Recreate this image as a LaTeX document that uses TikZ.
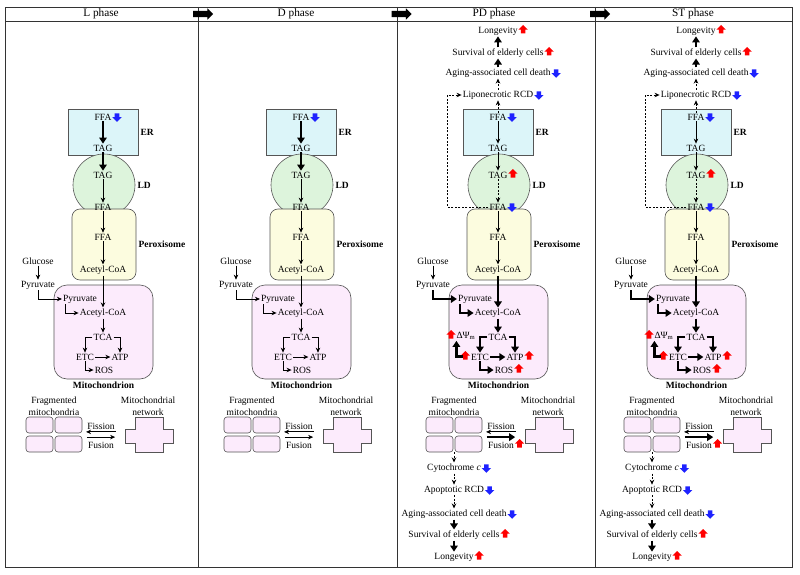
\documentclass[tikz,border=0pt]{standalone}
\usepackage{fontspec}
\setmainfont{Liberation Serif}
\usepackage{tikz}
\usetikzlibrary{positioning}
\usetikzlibrary{arrows.meta}
\usetikzlibrary{shapes.arrows}
\definecolor{ERCyan}{HTML}{DCF5F9}
\definecolor{LDGreen}{HTML}{DDF4DC}
\definecolor{PeroxYellow}{HTML}{FCFCDF}
\definecolor{MitoPink}{HTML}{FCEBFC}
\definecolor{UpRed}{HTML}{FF0000}
\definecolor{DownBlue}{HTML}{1E22FF}
\definecolor{EdgeGray}{HTML}{555555}
\tikzset{
	every node/.style={font=\fontsize{9.5}{11.5}\selectfont, inner sep=1pt},
	flux/.style={->, >={Stealth[length=5pt, width=4.5pt]}, line width=0.8pt}, % normal flux
	bigflux/.style={->, >={Triangle[length=6pt, width=7.5pt]}, line width=2.3pt}, % enhanced flux
	dashflux/.style={flux, dash pattern=on 2pt off 1.5pt}, % weakened flux
	organelle/.style={draw=EdgeGray, line width=0.6pt},
	orglabel/.style={font=\fontsize{9.5}{11.5}\selectfont\bfseries},
	phaselabel/.style={font=\fontsize{11.3}{13}\selectfont},
	upmark/.style={single arrow, draw=none, fill=UpRed, shape border rotate=90,
			minimum height=8.5pt, inner sep=2.1pt, single arrow head extend=2.4pt},
	downmark/.style={upmark, fill=DownBlue, shape border rotate=270},
	phasearrow/.style={single arrow, draw=none, fill=black, minimum height=20pt,
			inner sep=3pt, single arrow head extend=2.5pt},
	% fluxes of the L and D phases
	erflux/.style={bigflux}, ldflux/.style={flux}, mitoflux/.style={flux}, fusflux/.style={flux}
}
% up/down marks beside a label
\newcommand{\chgright}[3]{\node[#1] (#2) at ([xshift=4.4pt, yshift=0.6pt]#3.east) {};}
\newcommand{\chgleft}[3]{\node[#1] (#2) at ([xshift=-4.4pt, yshift=0.6pt]#3.west) {};}

% one phase column: #1 shift of the lower block, #2 x of ROS
\newcommand{\phasecol}[2]{
	% Organelles
	\node[organelle, fill=ERCyan, minimum width=70pt, minimum height=46pt] (er) at (103,132) {};
	\node[organelle, fill=LDGreen, circle, minimum size=62pt] (ld) at (104,185) {};
	\node[organelle, fill=PeroxYellow, rounded corners=8pt, minimum width=64pt, minimum height=71pt] (perox) at (104,244.5) {};
	\node[organelle, fill=MitoPink, rounded corners=13pt, minimum width=99pt, minimum height=94pt] (mito) at (103.5,332) {};
	\node[orglabel, right=1pt of er] (erlbl) {ER};
	\node[orglabel, right=1pt of ld] (ldlbl) {LD};
	\node[orglabel, right=1pt of perox] (peroxlbl) {Peroxisome};
	\node[orglabel, below=1pt of mito] (mitolbl) {Mitochondrion};

	% Metabolites
	\node (ffa1) at (103,117) {FFA};
	\node (tag1) at (103,148) {TAG};
	\node (tag2) at (103,175) {TAG};
	\node (ffa2) at (103,207) {FFA};
	\node (ffa3) at (103,237) {FFA};
	\node (acoa1) at (103,270) {Acetyl-CoA};
	\node (glu) at (38,261) {Glucose};
	\node (pyr1) at (38,285) {Pyruvate};
	\node (pyr2) at (80,299) {Pyruvate};
	\node (acoa2) at (103,313) {Acetyl-CoA};
	\node (tca) at (103,337) {TCA};
	\node (etc) at (85,357) {ETC};
	\node (atp) at (120,357) {ATP};
	\node (ros) at (#2,370) {ROS};
	\chgright{downmark}{ffa1dn}{ffa1}

	% Fluxes
	\draw[erflux] (ffa1) -- (tag1);
	\draw[erflux] (tag1) -- (tag2);
	\draw[ldflux] (tag2) -- (ffa2);
	\draw[flux] (ffa2) -- (ffa3);
	\draw[flux] (ffa3) -- (acoa1);
	\draw[mitoflux] (acoa1) -- (acoa2);
	\draw[flux] (glu) -- (pyr1);
	\draw[mitoflux] (pyr1.south) |- (pyr2.west);
	\draw[mitoflux] ([xshift=-15pt]pyr2.south) |- (acoa2.west);
	\draw[mitoflux] (acoa2) -- (tca);
	\draw[mitoflux] (tca.west) -| (etc.north);
	\draw[mitoflux] (tca.east) -| (atp.north);
	\draw[mitoflux] (etc) -- (atp);
	\draw[mitoflux] (etc.south) |- (ros.west);

	% Fission and fusion
	\begin{scope}[xshift=#1]
		\node[align=center] (fraglbl) at (54,406) {Fragmented\\mitochondria};
		\node[align=center] (netlbl) at (148,406) {Mitochondrial\\network};
		\node[organelle, fill=MitoPink, rounded corners=3pt, minimum width=27pt, minimum height=16pt] (fr1) at (39.5,425) {};
		\node[organelle, fill=MitoPink, rounded corners=3pt, minimum width=27pt, minimum height=16pt] (fr2) at (68.5,425) {};
		\node[organelle, fill=MitoPink, rounded corners=3pt, minimum width=27pt, minimum height=16pt] (fr3) at (39.5,444) {};
		\node[organelle, fill=MitoPink, rounded corners=3pt, minimum width=27pt, minimum height=16pt] (fr4) at (68.5,444) {};
		\draw[organelle, fill=MitoPink] (135,417) -- (163,417) -- (163,429) -- (173,429) -- (173,443) -- (163,443)
			-- (163,452) -- (135,452) -- (135,443) -- (125,443) -- (125,429) -- (135,429) -- cycle;
		\node (fis) at (101,426) {Fission};
		\node (fus) at (101,445) {Fusion};
		\draw[flux] ([yshift=-1.5pt]fis.south east) -- ([yshift=-1.5pt]fis.south west);
		\draw[fusflux] ([yshift=3.5pt]fus.north west) -- ([yshift=3.5pt]fus.north east);
	\end{scope}
}

% extra changes of the PD and ST phases
\newcommand{\agingcol}{
	% Lipid branch
	\node (lipo) at (103,95) {Liponecrotic RCD};
	\node (agt) at (103,73) {Aging-associated cell death};
	\node (svt) at (103,53) {Survival of elderly cells};
	\node (lont) at (103,31) {Longevity};
	\chgright{downmark}{lipodn}{lipo}
	\chgright{downmark}{agtdn}{agt}
	\chgright{upmark}{svtup}{svt}
	\chgright{upmark}{lontup}{lont}
	\chgright{upmark}{tag2up}{tag2}
	\chgright{downmark}{ffa2dn}{ffa2}
	\draw[dashflux] (ffa1) -- (lipo);
	\draw[dashflux] (lipo) -- (agt);
	\draw[bigflux] (agt) -- (svt);
	\draw[bigflux] (svt) -- (lont);
	\draw[dashflux] (ffa2.west) -| ([xshift=-14pt]lipo.west) -- (lipo.west);

	% Mitochondrial changes
	\node (dpsi) at (71,336) {ΔΨ\textsubscript{m}};
	\chgleft{upmark}{dpsiup}{dpsi}
	\chgleft{upmark}{etcup}{etc}
	\chgright{upmark}{atpup}{atp}
	\chgright{upmark}{rosup}{ros}
	\chgright{upmark}{fusup}{fus}
	\draw[bigflux] (etcup) -| ([xshift=1pt]dpsi.south west);

	% Apoptotic branch
	\begin{scope}[xshift=5pt]
		\node (cyt) at (54,468) {Cytochrome \textit{c}};
		\node (apo) at (54,490) {Apoptotic RCD};
		\node (agb) at (54,514) {Aging-associated cell death};
		\node (svb) at (54,535) {Survival of elderly cells};
		\node (lonb) at (54,557) {Longevity};
		\chgright{downmark}{cytdn}{cyt}
		\chgright{downmark}{apodn}{apo}
		\chgright{downmark}{agbdn}{agb}
		\chgright{upmark}{svbup}{svb}
		\chgright{upmark}{lonbup}{lonb}
		\draw[dashflux] (cyt |- fr4.south) -- (cyt);
		\draw[dashflux] (cyt) -- (apo);
		\draw[dashflux] (apo) -- (agb);
		\draw[bigflux] (agb) -- (svb);
		\draw[bigflux] (svb) -- (lonb);
	\end{scope}
}

\begin{document}
\begin{tikzpicture}[x=1pt, y=-1pt]
	\useasboundingbox (0,0) rectangle (800,575);

	% Frame
	\draw[line width=0.8pt, black!80] (5,7) rectangle (792,567);
	\draw[line width=0.8pt, black!80] (5,21) -- (792,21);
	\foreach \x in {198.5,397,595.5}
		\draw[line width=0.8pt, black!80] (\x,7) -- (\x,567);

	% Phases
	\node[phaselabel] (hL) at (101,14) {L phase};
	\node[phaselabel] (hD) at (296,14) {D phase};
	\node[phaselabel] (hPD) at (494,14) {PD phase};
	\node[phaselabel] (hST) at (693,14) {ST phase};
	\node[phasearrow] (aLD) at (201.5,14) {};
	\node[phasearrow] (aDPD) at (400,14) {};
	\node[phasearrow] (aPDST) at (598.5,14) {};

	\begin{scope}[name prefix=L-]
		\phasecol{0pt}{104}
	\end{scope}
	\begin{scope}[xshift=198pt, name prefix=D-]
		\phasecol{0pt}{104}
	\end{scope}
	\begin{scope}[xshift=395pt, name prefix=PD-, erflux/.style={flux}, ldflux/.style={dashflux},
			mitoflux/.style={bigflux}, fusflux/.style={bigflux}]
		\phasecol{5pt}{109}
		\agingcol
	\end{scope}
	\begin{scope}[xshift=593pt, name prefix=ST-, erflux/.style={flux}, ldflux/.style={dashflux},
			mitoflux/.style={bigflux}, fusflux/.style={bigflux}]
		\phasecol{5pt}{109}
		\agingcol
	\end{scope}
\end{tikzpicture}
\end{document}
